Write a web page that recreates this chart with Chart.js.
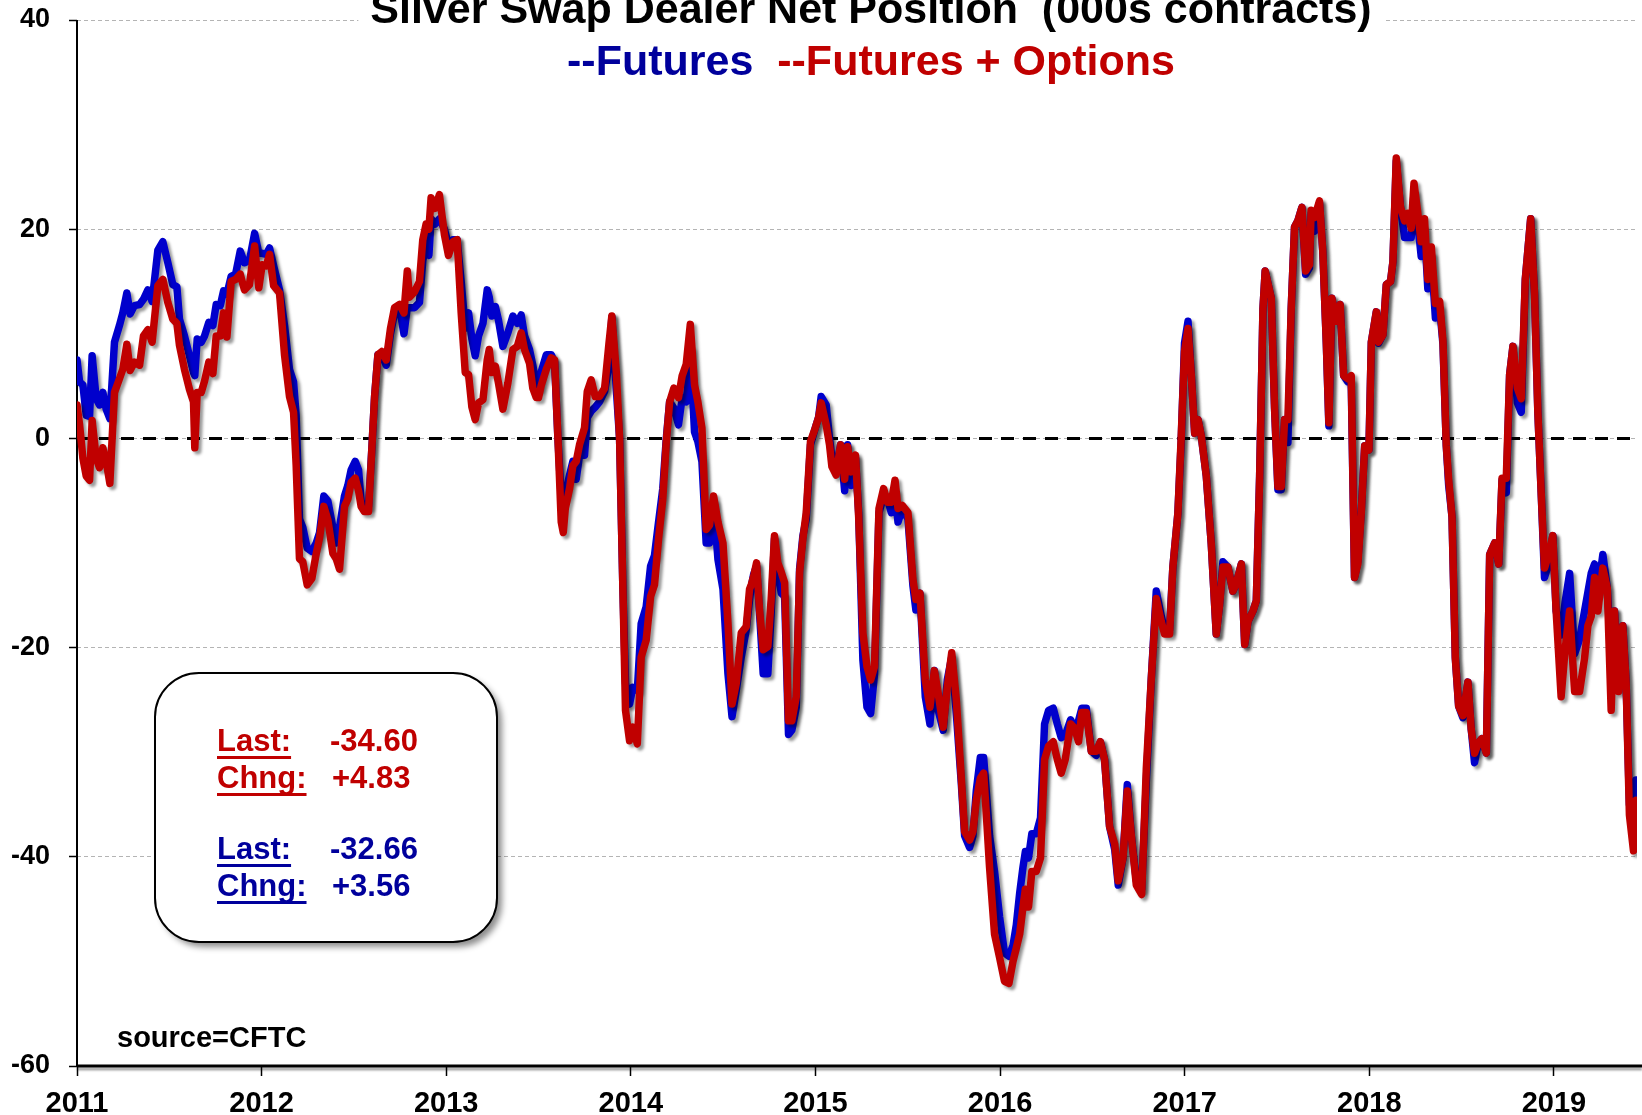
<!DOCTYPE html>
<html>
<head>
<meta charset="utf-8">
<script src="https://cdn.jsdelivr.net/npm/chart.js@4.4.1/dist/chart.umd.min.js"></script>
<style>
  html, body { margin: 0; padding: 0; background: #fff; }
  #wrap { width: 1642px; height: 1115px; }
</style>
</head>
<body>
<div id="wrap"><canvas id="chart" width="1642" height="1115"></canvas></div>
<script>
// weekly-ish readings, decimal years
const dates = [
  2011.000, 2011.014, 2011.032, 2011.050, 2011.068, 2011.082, 2011.104, 2011.122, 2011.140, 2011.158,
  2011.178, 2011.203, 2011.230, 2011.248, 2011.270, 2011.288, 2011.311, 2011.339, 2011.360, 2011.384,
  2011.407, 2011.438, 2011.465, 2011.492, 2011.519, 2011.541, 2011.555, 2011.582, 2011.609, 2011.631,
  2011.638, 2011.651, 2011.673, 2011.691, 2011.714, 2011.736, 2011.754, 2011.776, 2011.794, 2011.812,
  2011.835, 2011.859, 2011.884, 2011.907, 2011.934, 2011.962, 2011.985, 2012.003, 2012.025, 2012.043,
  2012.065, 2012.097, 2012.124, 2012.151, 2012.173, 2012.187,
  2012.205, 2012.223, 2012.247, 2012.272, 2012.296, 2012.314, 2012.337, 2012.359, 2012.386, 2012.404,
  2012.422, 2012.449, 2012.467, 2012.485, 2012.507, 2012.525, 2012.539, 2012.557, 2012.579, 2012.597,
  2012.612, 2012.630, 2012.651, 2012.675, 2012.698, 2012.720, 2012.747, 2012.771, 2012.789, 2012.801,
  2012.828, 2012.855, 2012.873, 2012.891, 2012.906, 2012.918, 2012.940, 2012.963, 2012.990, 2013.012,
  2013.036, 2013.059, 2013.081, 2013.103, 2013.121, 2013.139, 2013.157, 2013.175, 2013.199, 2013.222,
  2013.233, 2013.247, 2013.266, 2013.283, 2013.307, 2013.334, 2013.361, 2013.385, 2013.406, 2013.424,
  2013.451,
  2013.469, 2013.488, 2013.500, 2013.515, 2013.542, 2013.569, 2013.587, 2013.605, 2013.623, 2013.634,
  2013.645, 2013.668, 2013.686, 2013.704, 2013.722, 2013.749, 2013.764, 2013.785, 2013.807, 2013.830,
  2013.858, 2013.881, 2013.897, 2013.921, 2013.939, 2013.957, 2013.971, 2013.993, 2014.011, 2014.035,
  2014.056, 2014.083, 2014.107, 2014.128, 2014.150, 2014.173, 2014.192, 2014.210, 2014.233, 2014.258,
  2014.278, 2014.300, 2014.322, 2014.345, 2014.363, 2014.385, 2014.408, 2014.426, 2014.448, 2014.472,
  2014.499, 2014.526, 2014.548, 2014.571, 2014.598, 2014.625, 2014.643,
  2014.652, 2014.665, 2014.681, 2014.697, 2014.717, 2014.742, 2014.760, 2014.778, 2014.796, 2014.815,
  2014.833, 2014.854, 2014.872, 2014.896, 2014.914, 2014.932, 2014.950, 2014.973, 2014.999, 2015.017,
  2015.031, 2015.058, 2015.076, 2015.089, 2015.112, 2015.136, 2015.158, 2015.174, 2015.194, 2015.217,
  2015.234, 2015.257, 2015.279, 2015.299, 2015.320, 2015.344, 2015.369, 2015.390, 2015.411, 2015.431,
  2015.447, 2015.470, 2015.501, 2015.528, 2015.544, 2015.566, 2015.595, 2015.620, 2015.644, 2015.665,
  2015.692, 2015.714, 2015.738, 2015.763, 2015.790,
  2015.808, 2015.835, 2015.853, 2015.871, 2015.893, 2015.911, 2015.925, 2015.943, 2015.970, 2015.997,
  2016.024, 2016.048, 2016.070, 2016.088, 2016.106, 2016.124, 2016.137, 2016.154, 2016.172, 2016.196,
  2016.219, 2016.241, 2016.263, 2016.288, 2016.310, 2016.331, 2016.353, 2016.382, 2016.404, 2016.425,
  2016.443, 2016.467, 2016.494, 2016.521, 2016.543, 2016.566, 2016.593, 2016.621, 2016.640, 2016.666,
  2016.689, 2016.711, 2016.738, 2016.767, 2016.792, 2016.819, 2016.846, 2016.873, 2016.891, 2016.918,
  2016.936, 2016.963, 2016.981, 2016.999,
  2017.018, 2017.036, 2017.054, 2017.072, 2017.090, 2017.117, 2017.144, 2017.171, 2017.189, 2017.207,
  2017.234, 2017.261, 2017.279, 2017.307, 2017.325, 2017.343, 2017.370, 2017.388, 2017.406, 2017.424,
  2017.436, 2017.469, 2017.487, 2017.505, 2017.523, 2017.541, 2017.559, 2017.577, 2017.595, 2017.613,
  2017.635, 2017.655, 2017.676, 2017.685, 2017.703, 2017.730, 2017.748, 2017.767, 2017.781, 2017.797,
  2017.821, 2017.842, 2017.861, 2017.884, 2017.902, 2017.920, 2017.938, 2017.957, 2017.975, 2017.998,
  2018.011, 2018.038, 2018.050, 2018.074, 2018.092, 2018.115, 2018.128, 2018.146, 2018.169, 2018.191,
  2018.209, 2018.227, 2018.242, 2018.260, 2018.281, 2018.299, 2018.317, 2018.336, 2018.358, 2018.381,
  2018.399, 2018.417, 2018.430, 2018.448, 2018.466, 2018.484, 2018.507, 2018.534, 2018.552, 2018.570,
  2018.589, 2018.610, 2018.634, 2018.652, 2018.679, 2018.701, 2018.719, 2018.742, 2018.760, 2018.778,
  2018.802, 2018.823, 2018.845, 2018.874, 2018.895, 2018.913, 2018.931, 2018.949, 2018.971, 2018.994,
  2019.012, 2019.039, 2019.061, 2019.085, 2019.112, 2019.139, 2019.166, 2019.184, 2019.202, 2019.220,
  2019.238, 2019.265, 2019.289, 2019.310, 2019.328, 2019.350, 2019.373, 2019.391, 2019.409, 2019.431,
  2019.445
];

// Futures (blue), 000s contracts
const futures = [
  7.5, 5.4, 5.1, 2.2, 2.1, 7.9, 3.8, 3.2, 4.4, 2.8,
  1.9, 9.2, 10.8, 12.0, 13.9, 11.9, 12.7, 12.8, 13.3, 14.2,
  13.1, 18.0, 18.8, 16.8, 14.7, 14.5, 11.4, 9.8, 7.9, 6.3,
  6.0, 9.5, 9.2, 9.8, 11.1, 10.8, 12.8, 12.7, 14.1, 13.8,
  15.5, 15.7, 17.9, 16.8, 17.0, 19.6, 17.7, 17.7, 17.6, 18.2,
  16.5, 14.2, 10.8, 6.6, 5.4, 2.2,
  -7.7, -8.5, -10.5, -10.8, -10.0, -9.0, -5.5, -6.0, -8.5, -10.0,
  -8.5, -5.5, -4.5, -3.0, -2.2, -3.0, -6.0, -6.5, -6.5, -1.0,
  4.0, 8.0, 8.0, 7.0, 10.0, 12.0, 12.5, 10.0, 12.5, 12.5,
  12.5, 13.0, 17.0, 18.5, 17.5, 21.0, 20.5, 21.0, 20.0, 18.5,
  19.0, 19.0, 15.0, 10.5, 12.0, 9.5, 7.9, 9.8, 11.0, 14.2,
  13.5, 11.7, 12.6, 11.3, 8.8, 10.1, 11.7, 11.0, 11.8, 9.8,
  8.5,
  7.0, 5.0, 4.8, 6.4, 8.0, 8.0, 7.3, 0.0, -5.8, -5.7,
  -5.3, -3.5, -2.2, -3.9, -1.6, -1.6, 2.0, 2.6, 3.0, 3.5,
  4.5, 7.0, 11.6, 4.8, 0.0, -14.4, -23.4, -25.4, -23.8, -24.1,
  -17.7, -16.1, -12.2, -11.2, -8.0, -4.8, 0.0, 3.5, 2.9, 1.3,
  3.9, 3.5, 8.5, 0.6, -0.3, -2.2, -10.0, -10.0, -6.1, -11.6,
  -14.4, -22.5, -26.6, -24.1, -20.9, -18.3, -15.4,
  -14.2, -13.0, -12.2, -16.7, -22.5, -22.5, -16.7, -9.6, -12.8, -14.8,
  -15.1, -28.3, -27.9, -25.7, -12.5, -9.3, -7.7, -0.6, 1.0, 2.0,
  4.0, 3.2, 0.0, -1.9, -2.9, -0.6, -5.0, -0.6, -4.5, -1.9,
  -7.1, -21.2, -25.7, -26.3, -22.5, -7.1, -5.5, -5.8, -7.1, -5.1,
  -8.0, -6.7, -7.7, -14.1, -16.4, -14.8, -24.7, -27.3, -22.2, -26.0,
  -27.9, -23.1, -20.9, -26.3, -33.0,
  -38.0, -39.1, -38.0, -33.7, -30.5, -30.5, -33.7, -38.0, -41.4, -45.7,
  -49.2, -49.5, -48.5, -46.5, -43.5, -41.0, -39.5, -40.1, -37.8, -37.8,
  -36.3, -27.3, -26.0, -25.8, -27.3, -28.6, -28.4, -26.9, -27.7, -27.0,
  -25.8, -25.8, -29.9, -30.3, -29.0, -30.7, -37.1, -39.3, -42.7, -40.1,
  -33.1, -38.0, -42.3, -43.1, -32.8, -23.0, -14.6, -17.0, -18.3, -18.3,
  -12.3, -7.2, -0.3, 9.1,
  11.2, 6.0, 0.5, 1.8, 0.2, -3.6, -10.1, -18.7, -15.9, -11.8,
  -12.3, -14.6, -13.9, -12.0, -19.7, -17.5, -16.5, -15.5, -3.6, 12.4,
  16.0, 13.4, 2.8, -4.9, -4.9, 1.8, -0.4, 12.4, 20.2, 20.8,
  22.1, 15.7, 16.3, 21.5, 19.8, 22.5, 17.9, 9.2, 1.2, 13.4,
  11.2, 12.8, 6.0, 5.4, 5.4, -13.3, -11.7, -6.8, -0.7, -1.1,
  9.2, 12.1, 9.1, 9.9, 14.7, 15.0, 16.9, 26.5, 22.1, 19.2,
  19.2, 19.2, 23.5, 21.0, 17.4, 20.0, 14.3, 17.5, 11.5, 12.5,
  9.0, -0.7, -4.5, -7.5, -21.0, -25.6, -26.7, -23.3, -27.8, -31.0,
  -29.2, -28.7, -30.1, -11.1, -10.0, -12.0, -4.0, -5.2, 6.1, 8.8,
  3.4, 2.5, 15.2, 21.0, 13.8, 2.5, -5.2, -13.3, -12.0, -9.3,
  -16.5, -18.8, -15.6, -12.9, -20.6, -19.2, -16.5, -14.7, -12.9, -12.0,
  -14.7, -11.1, -14.3, -21.0, -16.5, -23.8, -17.9, -23.3, -35.0, -36.22,
  -32.66
];

// Futures + Options (red), 000s contracts
const futuresOptions = [
  3.2, 1.3, -1.9, -3.6, -4.0, 1.7, -1.9, -2.8, -0.9, -2.2,
  -4.3, 4.4, 5.7, 6.6, 9.0, 6.5, 7.3, 7.0, 9.8, 10.4,
  9.2, 14.6, 15.2, 13.0, 11.4, 11.0, 8.9, 6.6, 4.7, 3.5,
  -0.9, 4.4, 4.4, 5.5, 7.3, 6.2, 9.8, 9.8, 12.0, 9.7,
  15.0, 15.2, 15.7, 14.2, 14.7, 18.4, 14.4, 16.6, 16.5, 17.6,
  14.6, 13.9, 8.0, 4.0, 2.5, -2.5,
  -11.5, -11.8, -14.0, -13.4, -11.0, -9.5, -6.5, -7.8, -11.0, -11.5,
  -12.5, -6.5, -5.8, -4.2, -3.8, -5.0, -6.5, -7.0, -7.0, -1.0,
  4.0, 8.0, 8.3, 7.5, 10.5, 12.5, 12.8, 12.0, 16.0, 13.5,
  14.0, 15.0, 19.0, 20.5, 20.0, 23.0, 22.0, 23.3, 19.5, 17.5,
  18.8, 19.0, 12.0, 6.3, 6.1, 3.0, 1.8, 3.4, 3.7, 7.5,
  8.5, 6.3, 6.9, 5.3, 2.8, 5.3, 8.5, 8.8, 10.1, 8.5,
  7.2,
  4.8, 3.9, 3.9, 5.1, 6.6, 7.7, 7.5, 0.0, -8.0, -9.0,
  -6.7, -4.8, -2.6, -2.2, -0.6, 1.0, 4.5, 5.6, 4.0, 4.0,
  4.8, 9.0, 11.7, 6.4, 0.0, -14.4, -26.0, -28.9, -27.6, -29.2,
  -20.9, -19.3, -15.1, -14.0, -9.6, -5.8, -0.3, 3.5, 4.8, 3.9,
  6.0, 7.1, 10.9, 5.1, 3.5, 1.0, -8.7, -8.3, -5.5, -8.0,
  -10.0, -17.7, -25.4, -23.4, -18.6, -18.0, -14.4,
  -14.0, -13.2, -11.9, -16.4, -20.2, -19.9, -15.4, -9.3, -11.9, -12.8,
  -13.8, -27.0, -27.0, -24.7, -12.8, -9.6, -7.1, -0.3, 1.0, 2.0,
  3.4, 1.3, -0.6, -2.7, -3.5, -0.6, -3.9, -0.8, -3.2, -1.6,
  -7.5, -18.6, -21.8, -23.1, -21.8, -6.7, -4.8, -6.1, -6.1, -4.0,
  -6.7, -6.4, -7.1, -13.5, -15.4, -14.8, -23.1, -25.7, -22.2, -24.4,
  -27.6, -23.8, -20.5, -25.0, -32.5,
  -37.6, -38.4, -37.6, -34.6, -32.5, -32.0, -35.8, -41.0, -47.4, -49.6,
  -51.9, -52.1, -50.0, -48.7, -47.4, -44.8, -43.1, -44.8, -41.4, -41.4,
  -40.1, -30.7, -29.4, -29.0, -30.7, -32.0, -30.7, -27.3, -27.7, -29.0,
  -26.2, -26.2, -29.9, -29.9, -29.0, -30.7, -37.1, -38.8, -42.3, -40.1,
  -33.7, -38.0, -42.7, -43.6, -31.6, -23.0, -15.3, -17.5, -18.7, -18.7,
  -12.3, -7.2, 0.1, 8.3,
  10.5, 6.0, 0.5, 1.8, 0.2, -3.6, -10.1, -18.7, -15.9, -12.3,
  -12.3, -14.6, -13.9, -12.0, -19.7, -17.5, -16.5, -15.5, -3.6, 12.4,
  16.0, 13.4, 2.8, -4.6, -4.6, 1.8, 1.8, 12.4, 20.2, 20.8,
  22.1, 16.0, 16.6, 21.8, 21.1, 22.7, 17.9, 9.2, 1.5, 13.4,
  11.2, 12.8, 6.0, 5.7, 6.0, -13.3, -12.0, -7.0, -0.7, -1.1,
  9.2, 12.1, 9.2, 9.9, 14.7, 15.0, 16.9, 26.8, 22.1, 20.8,
  21.5, 20.1, 24.4, 21.9, 18.8, 21.0, 15.2, 18.3, 12.9, 13.1,
  9.3, -0.7, -4.0, -7.5, -21.0, -25.6, -26.5, -23.3, -27.8, -30.1,
  -29.2, -28.7, -30.1, -11.1, -10.0, -12.0, -3.8, -3.8, 6.1, 8.8,
  4.8, 3.8, 15.2, 21.0, 13.8, 2.5, -5.2, -12.4, -11.1, -9.3,
  -16.5, -24.7, -20.1, -16.5, -24.2, -24.2, -21.0, -17.9, -17.0, -13.3,
  -16.5, -12.4, -14.3, -26.0, -16.5, -24.2, -17.9, -23.3, -36.0, -39.43,
  -34.60
];

const yTicks = [-60, -40, -20, 0, 20, 40];
const yearTicks = [2011, 2012, 2013, 2014, 2015, 2016, 2017, 2018, 2019];

const FONT = '"Liberation Sans", Arial, sans-serif';
const BLUE = '#0000CC';
const RED = '#C00000';
const BLUE_TXT = '#00009C';

function toPoints(vals) {
    return dates.map((d, i) => ({ x: d, y: vals[i] }));
}

function fmtSigned(v) {
    return (v >= 0 ? '+' : '') + v.toFixed(2);
}

function roundRect(ctx, x, y, w, h, r) {
    ctx.beginPath();
    ctx.moveTo(x + r, y);
    ctx.arcTo(x + w, y, x + w, y + h, r);
    ctx.arcTo(x + w, y + h, x, y + h, r);
    ctx.arcTo(x, y + h, x, y, r);
    ctx.arcTo(x, y, x + w, y, r);
    ctx.closePath();
}

const decorations = {
    id: 'decorations',
    beforeDatasetsDraw(chart) {
        const { ctx, chartArea: a, scales: { y } } = chart;
        ctx.save();
        // zero line
        const y0 = y.getPixelForValue(0);
        ctx.strokeStyle = '#000';
        ctx.lineWidth = 3;
        ctx.setLineDash([13, 9]);
        ctx.beginPath();
        ctx.moveTo(a.left, y0);
        ctx.lineTo(a.right, y0);
        ctx.stroke();
        ctx.setLineDash([]);
        // axes
        ctx.lineWidth = 2;
        ctx.beginPath();
        ctx.moveTo(a.left, a.top);
        ctx.lineTo(a.left, a.bottom);
        ctx.stroke();
        ctx.shadowColor = 'rgba(0,0,0,0.35)';
        ctx.shadowBlur = 2;
        ctx.shadowOffsetY = 3;
        ctx.lineWidth = 3;
        ctx.beginPath();
        ctx.moveTo(a.left, a.bottom);
        ctx.lineTo(a.right + 5, a.bottom);
        ctx.stroke();
        ctx.restore();
    },
    beforeDatasetDraw(chart) {
        const ctx = chart.ctx;
        ctx.save();
        ctx.shadowColor = 'rgba(0,0,0,0.4)';
        ctx.shadowBlur = 3;
        ctx.shadowOffsetX = 3;
        ctx.shadowOffsetY = 3;
    },
    afterDatasetDraw(chart) {
        chart.ctx.restore();
    },
    afterDraw(chart) {
        const ctx = chart.ctx;
        ctx.save();

        // title
        const cx = 871;
        const t1 = 'Silver Swap Dealer Net Position  (000s contracts)';
        ctx.font = 'bold 43px ' + FONT;
        const w1 = ctx.measureText(t1).width;
        ctx.fillStyle = '#fff';
        ctx.fillRect(cx - w1 / 2 - 12, 0, w1 + 24, 34);
        ctx.fillStyle = '#000';
        ctx.textAlign = 'left';
        ctx.textBaseline = 'alphabetic';
        ctx.fillText(t1, cx - w1 / 2, 23);

        const pA = '--Futures  ';
        const pB = '--Futures + Options';
        const wA = ctx.measureText(pA).width;
        const wB = ctx.measureText(pB).width;
        const x2 = cx - (wA + wB) / 2;
        ctx.fillStyle = BLUE_TXT;
        ctx.fillText(pA, x2, 75);
        ctx.fillStyle = RED;
        ctx.fillText(pB, x2 + wA, 75);

        // source note
        ctx.fillStyle = '#000';
        ctx.font = 'bold 29px ' + FONT;
        ctx.fillText('source=CFTC', 117, 1047);

        // summary box
        ctx.save();
        ctx.shadowColor = 'rgba(0,0,0,0.45)';
        ctx.shadowBlur = 6;
        ctx.shadowOffsetX = 5;
        ctx.shadowOffsetY = 5;
        roundRect(ctx, 155, 673, 342, 269, 44);
        ctx.fillStyle = '#fff';
        ctx.fill();
        ctx.restore();
        roundRect(ctx, 155, 673, 342, 269, 44);
        ctx.lineWidth = 2;
        ctx.strokeStyle = '#000';
        ctx.stroke();

        const n = dates.length;
        const rows = [
            { color: RED, label: 'Last:', val: futuresOptions[n - 1].toFixed(2), y: 751 },
            { color: RED, label: 'Chng:', val: fmtSigned(futuresOptions[n - 1] - futuresOptions[n - 2]), y: 788 },
            { color: BLUE_TXT, label: 'Last:', val: futures[n - 1].toFixed(2), y: 859 },
            { color: BLUE_TXT, label: 'Chng:', val: fmtSigned(futures[n - 1] - futures[n - 2]), y: 896 }
        ];
        ctx.font = 'bold 31px ' + FONT;
        rows.forEach(r => {
            ctx.fillStyle = r.color;
            ctx.fillText(r.label, 217, r.y);
            const lw = ctx.measureText(r.label).width;
            ctx.fillRect(217, r.y + 5, lw, 3);
            const vx = r.val.startsWith('+') ? 332 : 330;
            ctx.fillText(r.val, vx, r.y);
        });

        ctx.restore();
    }
};

const tickFont = (size) => ({ family: FONT, size: size, weight: 'bold' });

new Chart(document.getElementById('chart'), {
    type: 'line',
    data: {
        datasets: [
            {
                label: 'Futures + Options',
                data: toPoints(futuresOptions),
                borderColor: RED,
                borderWidth: 7.5,
                pointRadius: 0,
                tension: 0,
                borderJoinStyle: 'round',
                borderCapStyle: 'round',
                fill: false
            },
            {
                label: 'Futures',
                data: toPoints(futures),
                borderColor: BLUE,
                borderWidth: 7.5,
                pointRadius: 0,
                tension: 0,
                borderJoinStyle: 'round',
                borderCapStyle: 'round',
                fill: false
            }
        ]
    },
    options: {
        responsive: false,
        animation: false,
        devicePixelRatio: 1,
        layout: { padding: { top: 20, right: 5, left: 0, bottom: 0 } },
        plugins: {
            legend: { display: false },
            tooltip: { enabled: false },
            title: { display: false }
        },
        scales: {
            x: {
                type: 'linear',
                position: 'bottom',
                min: 2011,
                max: 2019.45,
                afterBuildTicks: s => { s.ticks = yearTicks.map(v => ({ value: v })); },
                afterFit: s => { s.height = 49; s.paddingLeft = 0; s.paddingRight = 0; },
                ticks: {
                    color: '#000',
                    font: tickFont(29),
                    padding: 11,
                    maxRotation: 0,
                    autoSkip: false,
                    callback: v => String(v)
                },
                grid: {
                    drawOnChartArea: false,
                    drawTicks: true,
                    tickLength: 10,
                    tickColor: '#000',
                    tickWidth: 1.5,
                    color: '#000'
                },
                border: { display: false }
            },
            y: {
                min: -60,
                max: 40,
                afterBuildTicks: s => { s.ticks = yTicks.map(v => ({ value: v })); },
                afterFit: s => { s.width = 77; s.paddingTop = 0; s.paddingBottom = 0; },
                ticks: {
                    color: '#000',
                    font: tickFont(27),
                    padding: 19,
                    callback: v => String(v)
                },
                grid: {
                    color: '#B4B4B4',
                    lineWidth: 1,
                    tickLength: 8,
                    tickColor: '#000',
                    tickWidth: 1.5,
                    tickBorderDash: []
                },
                border: { display: false, dash: [4, 3] }
            }
        }
    },
    plugins: [decorations]
});
</script>
</body>
</html>
